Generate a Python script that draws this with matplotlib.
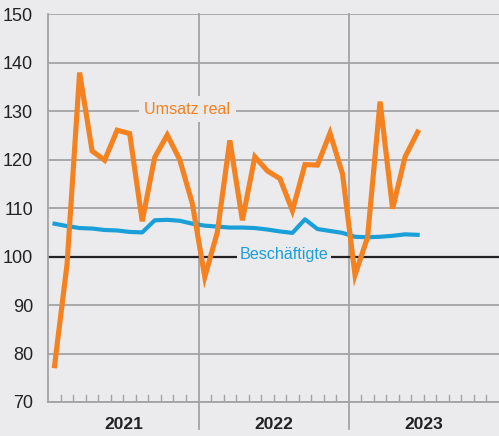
import numpy as np
import matplotlib
matplotlib.use("Agg")
import matplotlib.pyplot as plt

plt.rcParams['font.family'] = ['Liberation Sans', 'DejaVu Sans']

# monthly values, Jan 2021 - Jun 2023
umsatz = [77.5, 98.5, 138.0, 121.8, 119.9, 126.1, 125.4, 107.3, 120.5, 125.1,
          120.0, 111.0, 95.8, 105.0, 124.0, 107.5, 120.6, 117.7, 116.1, 109.5,
          119.0, 118.9, 125.5, 117.1, 96.2, 104.0, 132.0, 109.9, 120.6, 125.7]
beschaeftigte = [106.8, 106.3, 105.9, 105.8, 105.5, 105.4, 105.1, 105.0, 107.5, 107.6,
                 107.4, 106.8, 106.4, 106.2, 106.0, 106.0, 105.9, 105.6, 105.2, 104.9,
                 107.7, 105.7, 105.3, 104.9, 104.1, 104.0, 104.1, 104.3, 104.6, 104.5]
years = ['2021', '2022', '2023']
yticks = [70, 80, 90, 100, 110, 120, 130, 140, 150]

bg = '#ebebed'
grid_c = '#a3a3a5'
orange = '#f58220'
blue = '#1a9fd8'

fig = plt.figure(figsize=(4.99, 4.36), dpi=100, facecolor=bg)
ax = fig.add_axes([0.0968, 0.078, 0.9032, 0.889])
ax.set_facecolor(bg)

ax.set_xlim(0, 36)
ax.set_ylim(70, 150)

# horizontal grid
for v in yticks:
    if v == 100:
        continue
    ax.axhline(v, color=grid_c, lw=1.3, zorder=1)
ax.axhline(100, color='#222222', lw=1.6, zorder=2)

# year separators, extending below the axis
for k in range(1, len(years)):
    ax.axvline(12 * k, ymin=-0.07, ymax=1, color=grid_c, lw=1.3, clip_on=False, zorder=1)

# month ticks
for m in range(1, 36):
    if m % 12 == 0:
        continue
    ax.plot([m, m], [70, 71.4], color=grid_c, lw=1.0, zorder=1)

x = np.arange(len(umsatz)) + 0.5
ax.plot(x, umsatz, color=orange, lw=3.7, solid_joinstyle='miter', zorder=4)
ax.plot(x, beschaeftigte, color=blue, lw=3.0, zorder=3)

ax.text(11.1, 130.4, 'Umsatz real', color=orange, fontsize=11.6, ha='center', va='center',
        bbox=dict(facecolor=bg, edgecolor='none', pad=4), zorder=5)
ax.text(18.8, 100.4, 'Beschäftigte', color=blue, fontsize=11.6, ha='center', va='center',
        bbox=dict(facecolor=bg, edgecolor='none', pad=2), zorder=5)

for sp in ['top', 'right']:
    ax.spines[sp].set_visible(False)
for sp in ['left', 'bottom']:
    ax.spines[sp].set_color(grid_c)
    ax.spines[sp].set_linewidth(1.3)

ax.set_yticks(yticks)
ax.set_yticklabels([str(v) for v in yticks], fontsize=13, color='#222222')
ax.tick_params(axis='y', length=0, pad=11)
ax.set_xticks([6 + 12 * k for k in range(len(years))])
ax.set_xticklabels(years, fontsize=12.5, fontweight='bold', color='#222222')
ax.tick_params(axis='x', length=0, pad=11)

fig.savefig('out.png', dpi=100, facecolor=bg)
